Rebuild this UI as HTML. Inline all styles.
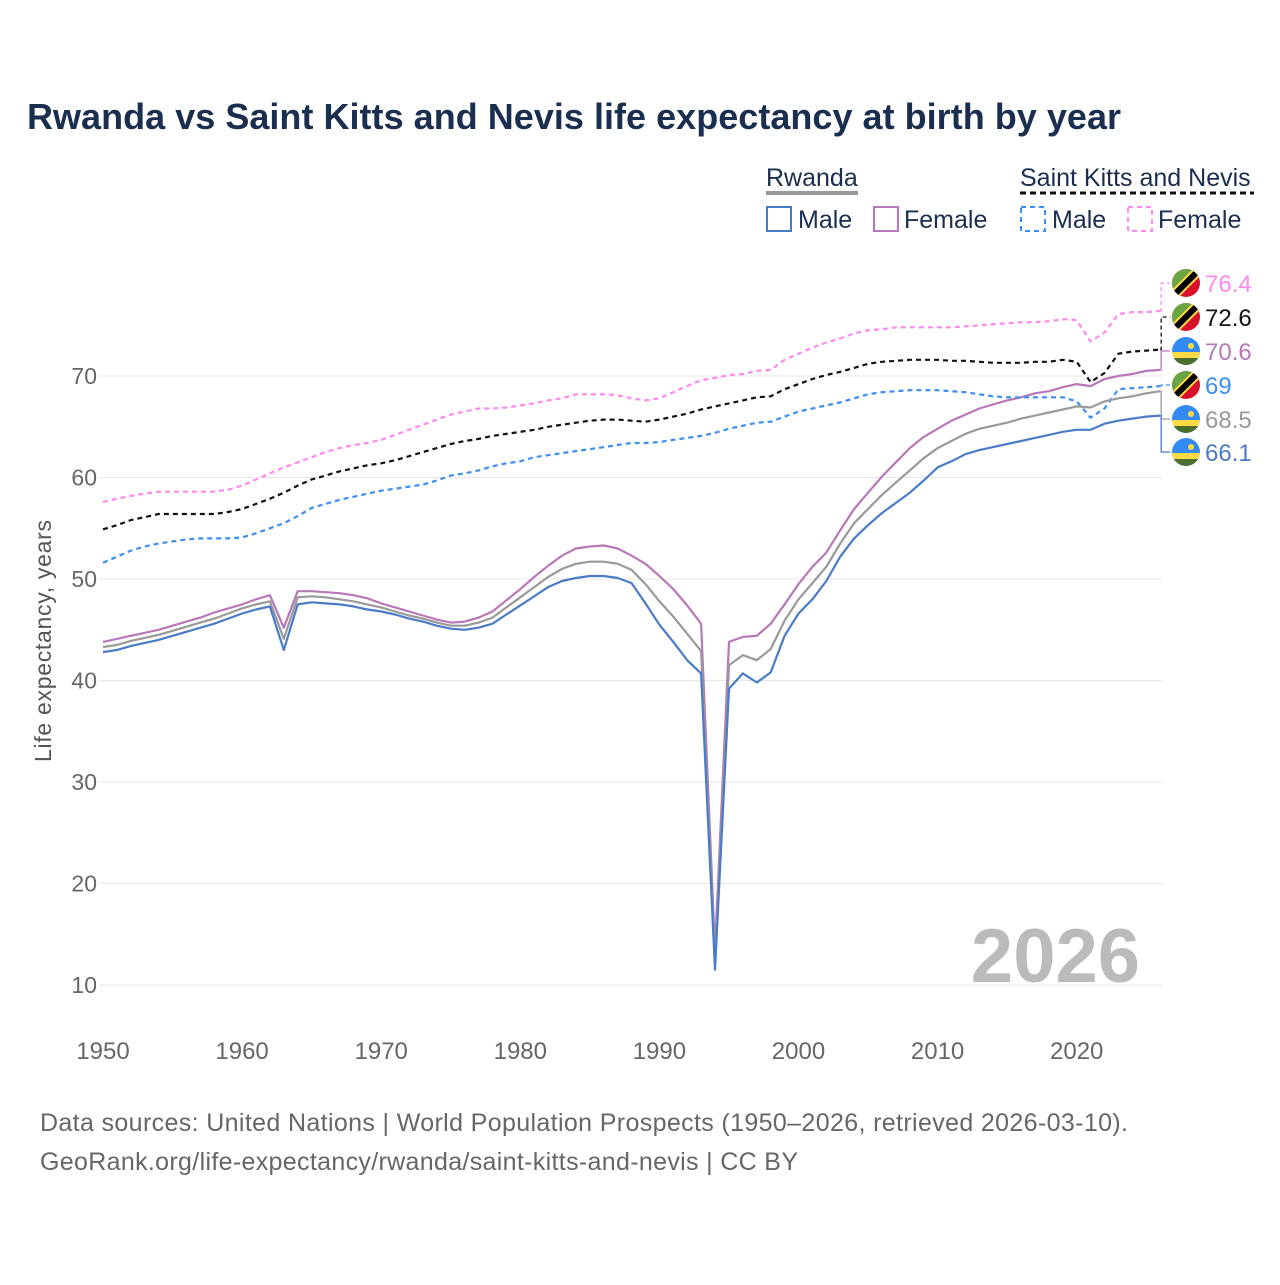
<!DOCTYPE html>
<html><head><meta charset="utf-8"><style>
body{margin:0;background:#fff;width:1280px;height:1280px;overflow:hidden;font-family:"Liberation Sans",sans-serif}
svg text{font-family:"Liberation Sans",sans-serif}
</style></head><body>
<svg id="c" width="1280" height="1280" viewBox="0 0 1280 1280" xmlns="http://www.w3.org/2000/svg">
<text x="27" y="129" font-size="36" font-weight="bold" fill="#1a2e4f" textLength="1094">Rwanda vs Saint Kitts and Nevis life expectancy at birth by year</text>
<g font-size="25" fill="#1a2e4f">
<text x="766" y="186">Rwanda</text>
<line x1="766" y1="193" x2="858" y2="193" stroke="#999" stroke-width="4"/>
<rect x="767" y="207" width="24" height="24" fill="none" stroke="#4a7bc8" stroke-width="2"/>
<text x="798" y="228">Male</text>
<rect x="874" y="207" width="24" height="24" fill="none" stroke="#b877b8" stroke-width="2"/>
<text x="904" y="228">Female</text>
<text x="1020" y="186">Saint Kitts and Nevis</text>
<line x1="1020" y1="193" x2="1254" y2="193" stroke="#111" stroke-width="3" stroke-dasharray="6,4"/>
<rect x="1021" y="207" width="24" height="24" fill="none" stroke="#3d8ef0" stroke-width="2" stroke-dasharray="5,4"/>
<text x="1052" y="228">Male</text>
<rect x="1128" y="207" width="24" height="24" fill="none" stroke="#ff88ee" stroke-width="2" stroke-dasharray="5,4"/>
<text x="1158" y="228">Female</text>
</g>
<g id="grid"></g><g id="series"></g><g id="labels"></g>
<text x="1140" y="982" text-anchor="end" font-size="76" font-weight="bold" fill="#bbb">2026</text>
<text transform="translate(51,641) rotate(-90)" text-anchor="middle" font-size="23" fill="#555" textLength="242">Life expectancy, years</text>
<text x="40" y="1131" font-size="25" fill="#666" textLength="1088">Data sources: United Nations | World Population Prospects (1950–2026, retrieved 2026-03-10).</text>
<text x="40" y="1170" font-size="25" fill="#666" textLength="758">GeoRank.org/life-expectancy/rwanda/saint-kitts-and-nevis | CC BY</text>
</svg>
<script>
const years=[];for(let y=1950;y<=2026;y++)years.push(y);
const yTicks=[10,20,30,40,50,60,70];
const xTicks=[1950,1960,1970,1980,1990,2000,2010,2020];
const rwMale=[42.8,43.0,43.4,43.7,44.0,44.4,44.8,45.2,45.6,46.1,46.6,47.0,47.3,43.0,47.5,47.7,47.6,47.5,47.3,47.0,46.8,46.5,46.1,45.8,45.4,45.1,45.0,45.2,45.6,46.5,47.4,48.3,49.2,49.8,50.1,50.3,50.3,50.1,49.6,47.6,45.5,43.8,42.0,40.7,11.5,39.2,40.7,39.8,40.8,44.4,46.6,48.0,49.8,52.2,54.0,55.3,56.5,57.5,58.5,59.7,61.0,61.6,62.3,62.7,63.0,63.3,63.6,63.9,64.2,64.5,64.7,64.7,65.3,65.6,65.8,66.0,66.1];
const rwFemale=[43.8,44.1,44.4,44.7,45.0,45.4,45.8,46.2,46.7,47.1,47.5,48.0,48.4,45.2,48.8,48.8,48.7,48.6,48.4,48.1,47.6,47.2,46.8,46.4,46.0,45.7,45.8,46.2,46.8,47.9,49.0,50.2,51.3,52.3,53.0,53.2,53.3,53.0,52.3,51.5,50.3,49.0,47.4,45.6,13.5,43.8,44.3,44.4,45.6,47.5,49.5,51.2,52.6,54.8,56.9,58.5,60.1,61.5,62.9,64.0,64.8,65.6,66.2,66.8,67.2,67.6,67.9,68.3,68.5,68.9,69.2,69.0,69.7,70.0,70.2,70.5,70.6];
const rwTotal=[43.3,43.5,43.9,44.2,44.5,44.9,45.3,45.7,46.1,46.6,47.1,47.5,47.8,44.1,48.2,48.3,48.2,48.0,47.8,47.5,47.2,46.8,46.4,46.1,45.7,45.4,45.4,45.7,46.2,47.2,48.2,49.2,50.2,51.0,51.5,51.7,51.7,51.5,50.9,49.5,47.8,46.3,44.6,42.9,12.5,41.5,42.5,42.0,43.1,45.9,48.0,49.6,51.2,53.5,55.5,56.9,58.3,59.5,60.7,61.9,62.9,63.6,64.3,64.8,65.1,65.4,65.8,66.1,66.4,66.7,67.0,66.9,67.5,67.8,68.0,68.3,68.5];
const sknMale=[51.6,52.2,52.8,53.2,53.5,53.7,53.9,54.0,54.0,54.0,54.1,54.5,55.0,55.5,56.2,57.0,57.4,57.8,58.1,58.4,58.7,58.9,59.1,59.3,59.7,60.2,60.4,60.7,61.1,61.4,61.6,62.0,62.2,62.4,62.6,62.8,63.0,63.2,63.4,63.4,63.5,63.7,63.9,64.1,64.4,64.8,65.1,65.4,65.5,66.0,66.5,66.8,67.1,67.4,67.8,68.2,68.4,68.5,68.6,68.6,68.6,68.5,68.4,68.2,68.0,67.9,67.9,67.9,67.9,67.9,67.5,65.9,66.8,68.7,68.8,68.9,69.0];
const sknTotal=[54.9,55.3,55.8,56.1,56.4,56.4,56.4,56.4,56.4,56.6,56.9,57.4,57.9,58.5,59.2,59.8,60.2,60.6,60.9,61.2,61.4,61.7,62.1,62.5,62.9,63.3,63.6,63.8,64.1,64.3,64.5,64.7,65.0,65.2,65.4,65.6,65.7,65.7,65.6,65.5,65.7,66.0,66.3,66.7,67.0,67.3,67.6,67.9,68.0,68.7,69.2,69.7,70.1,70.4,70.8,71.2,71.4,71.5,71.6,71.6,71.6,71.5,71.5,71.4,71.3,71.3,71.3,71.4,71.4,71.6,71.4,69.4,70.3,72.2,72.4,72.5,72.6];
const sknFemale=[57.6,57.9,58.2,58.4,58.6,58.6,58.6,58.6,58.6,58.8,59.2,59.8,60.4,61.0,61.5,62.0,62.5,62.9,63.2,63.4,63.7,64.2,64.7,65.2,65.7,66.2,66.5,66.8,66.8,66.9,67.1,67.3,67.6,67.8,68.2,68.2,68.2,68.1,67.8,67.6,67.8,68.4,69.0,69.6,69.8,70.1,70.2,70.5,70.6,71.6,72.2,72.8,73.3,73.7,74.2,74.5,74.6,74.8,74.8,74.8,74.8,74.8,74.9,75.0,75.1,75.2,75.3,75.3,75.4,75.6,75.5,73.4,74.3,76.1,76.3,76.3,76.4];
const NS='http://www.w3.org/2000/svg';
const X=y=>103+(y-1950)*13.91;
const Y=v=>376+(70-v)*10.15;
function mk(tag,attrs,parent){const e=document.createElementNS(NS,tag);for(const k in attrs)e.setAttribute(k,attrs[k]);parent.appendChild(e);return e;}
const grid=document.getElementById('grid'),ser=document.getElementById('series'),lab=document.getElementById('labels');
yTicks.forEach(v=>{
 const l=mk('line',{x1:100,x2:1162,y1:Y(v),y2:Y(v),stroke:'#e6e6e6','stroke-width':1},grid);
 
 
 const t=mk('text',{x:97,y:Y(v)+8,'text-anchor':'end','font-size':23,fill:'#666'},grid);
 
 
 t.textContent=v;
});
xTicks.forEach(yr=>{
 const t=mk('text',{x:X(yr),y:1059,'text-anchor':'middle','font-size':24,fill:'#666'},grid);
 
 
 t.textContent=yr;
});
const series=[
 {d:sknFemale,c:'#ff88ee',dash:'5,4',n:'skn-female',ly:283},
 {d:sknTotal,c:'#111',dash:'5,4',n:'skn-total',ly:317},
 {d:rwFemale,c:'#b877b8',dash:null,n:'rwanda-female',ly:351},
 {d:sknMale,c:'#3d8ef0',dash:'5,4',n:'skn-male',ly:385},
 {d:rwTotal,c:'#999',dash:null,n:'rwanda-total',ly:419},
 {d:rwMale,c:'#4a7bc8',dash:null,n:'rwanda-male',ly:452}
];
function flag(cx,cy,skn,parent){
 const g=mk('g',{},parent);
 
 
 const id='cl'+cx+'_'+cy;
 const cp=mk('clipPath',{id:id},g);mk('circle',{cx:cx,cy:cy,r:14},cp);
 const h=mk('g',{'clip-path':'url(#'+id+')'},g);
 if(skn){
  mk('rect',{x:cx-14,y:cy-14,width:28,height:28,fill:'#d8102c'},h);
  mk('polygon',{points:`${cx-14},${cy-14} ${cx+14},${cy-14} ${cx-14},${cy+14}`,fill:'#6da544'},h);
  mk('line',{x1:cx-16,y1:cy+16,x2:cx+16,y2:cy-16,stroke:'#ffda44',"stroke-width":10},h);
  mk('line',{x1:cx-16,y1:cy+16,x2:cx+16,y2:cy-16,stroke:'#000',"stroke-width":6},h);
 }else{
  mk('rect',{x:cx-14,y:cy-14,width:28,height:28,fill:'#338af3'},h);
  mk('rect',{x:cx-14,y:cy+1,width:28,height:6,fill:'#ffda44'},h);
  mk('rect',{x:cx-14,y:cy+7,width:28,height:8,fill:'#496e2d'},h);
  mk('circle',{cx:cx+5,cy:cy-5,r:3,fill:'#ffda44'},h);
 }
}
series.forEach(s=>{
 const pts=s.d.map((v,i)=>X(years[i]).toFixed(1)+','+Y(v).toFixed(1)).join(' ');
 const a={points:pts,fill:'none',stroke:s.c,'stroke-width':2.2,'stroke-linejoin':'round'};
 if(s.dash)a['stroke-dasharray']=s.dash;
 const p=mk('polyline',a,ser);
 
 
 const last=s.d[s.d.length-1],ex=X(2026),ey=Y(last);
 const cA={points:`${ex},${ey} ${ex+1},${ey} ${ex+1},${s.ly} ${ex+10},${s.ly}`,fill:'none',stroke:s.c,'stroke-width':1.3};
 if(s.dash)cA['stroke-dasharray']='4,3';
 const cn=mk('polyline',cA,lab);
 
 
 flag(1186,s.ly,s.n.startsWith('skn'),lab);
 const t=mk('text',{x:1205,y:s.ly+9,'font-size':24,fill:s.c},lab);
 
 
 t.textContent=last;
});
</script>
</body></html>
